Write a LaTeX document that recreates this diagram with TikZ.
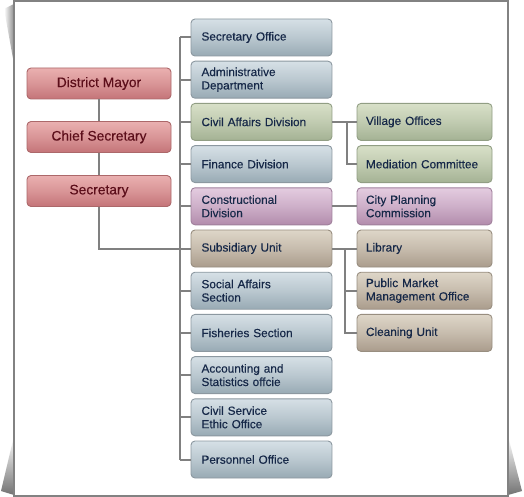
\documentclass[tikz,border=0pt]{standalone}
\usepackage{fontspec}
\setmainfont{Liberation Sans}
\newfontfamily\boxfont{Liberation Sans}[FakeBold=0.3]
\hyphenpenalty=10000
\AtBeginDocument{\hyphenpenalty=10000\relax}
\begin{document}
\begin{tikzpicture}[x=1pt,y=-1pt]
\definecolor{bluetop}{RGB}{214,224,230}
\definecolor{bluebot}{RGB}{152,170,180}
\definecolor{blueborder}{RGB}{140,152,160}
\definecolor{greentop}{RGB}{216,224,200}
\definecolor{greenbot}{RGB}{164,178,148}
\definecolor{greenborder}{RGB}{145,158,132}
\definecolor{purpletop}{RGB}{228,204,224}
\definecolor{purplebot}{RGB}{178,140,172}
\definecolor{purpleborder}{RGB}{160,128,156}
\definecolor{tantop}{RGB}{222,214,200}
\definecolor{tanbot}{RGB}{170,156,140}
\definecolor{tanborder}{RGB}{152,142,128}
\definecolor{redtop}{RGB}{234,176,176}
\definecolor{redbot}{RGB}{196,116,120}
\definecolor{redborder}{RGB}{172,104,106}
\definecolor{navytext}{RGB}{22,40,72}
\definecolor{maroontext}{RGB}{92,14,26}
\definecolor{linegray}{RGB}{128,128,128}
\definecolor{framegray}{RGB}{130,130,130}
\tikzset{
  box/.style={draw=#1border, rounded corners=4pt, line width=0.9pt,
    top color=#1top, bottom color=#1bot, middle color=#1top!55!#1bot,
    minimum height=37pt, inner ysep=0pt},
  midbox/.style={box=#1, minimum width=141pt, text width=120pt, inner xsep=10.5pt,
    align=left, text=navytext, font=\boxfont\fontsize{11.8}{13.4}\selectfont},
  rightbox/.style={box=#1, minimum width=135pt, text width=117pt, inner xsep=9pt,
    align=left, text=navytext, font=\boxfont\fontsize{11.8}{13.4}\selectfont},
  leftbox/.style={box=red, minimum width=144pt, minimum height=31pt,
    align=center, text=maroontext, font=\boxfont\fontsize{13.8}{16}\selectfont},
  conn/.style={draw=linegray, line width=2pt},
}
\useasboundingbox (0,0) rectangle (524,497);
\fill[white] (0,0) rectangle (524,497);
% page-curl shadows
\shade[left color=white, right color=black!45] (4,9) -- (14,4) -- (14,64) -- cycle;
\shade[top color=white, bottom color=black!55] (14,436) -- (14,495) -- (1,491) -- cycle;
\shade[top color=white, bottom color=black!55] (508,436) -- (508,495) -- (522,491) -- cycle;
\draw[draw=framegray, line width=1.5pt, fill=white] (14,1) rectangle (508,496);

% left column
\node[leftbox] (dm) at (99,83.5) {District Mayor};
\node[leftbox] (cs) at (99,137) {Chief Secretary};
\node[leftbox] (sec) at (99,191) {Secretary};

% middle column
\node[midbox=blue]   (m1)  at (261.5,37.5)  {Secretary Office};
\node[midbox=blue]   (m2)  at (261.5,79.7)  {Administrative\\Department};
\node[midbox=green]  (m3)  at (261.5,121.9) {Civil Affairs Division};
\node[midbox=blue]   (m4)  at (261.5,164.1) {Finance Division};
\node[midbox=purple] (m5)  at (261.5,206.3) {Constructional\\Division};
\node[midbox=tan]    (m6)  at (261.5,248.5) {Subsidiary Unit};
\node[midbox=blue]   (m7)  at (261.5,290.7) {Social Affairs\\Section};
\node[midbox=blue]   (m8)  at (261.5,332.9) {Fisheries Section};
\node[midbox=blue]   (m9)  at (261.5,375.1) {Accounting and\\Statistics offcie};
\node[midbox=blue]   (m10) at (261.5,417.3) {Civil Service\\Ethic Office};
\node[midbox=blue]   (m11) at (261.5,459.5) {Personnel Office};

% right column
\node[rightbox=green]  (r1) at (424.5,121.9) {Village Offices};
\node[rightbox=green]  (r2) at (424.5,164.1) {Mediation Committee};
\node[rightbox=purple] (r3) at (424.5,206.3) {City Planning\\Commission};
\node[rightbox=tan]    (r4) at (424.5,248.5) {Library};
\node[rightbox=tan]    (r5) at (424.5,290.7) {Public Market\\Management Office};
\node[rightbox=tan]    (r6) at (424.5,332.9) {Cleaning Unit};

% connector guide coordinates
\coordinate (tr) at (180,0);
\coordinate (b1) at (347,0);
\coordinate (b2) at (345,0);

% connectors
\draw[conn] (dm) -- (cs);
\draw[conn] (cs) -- (sec);
\draw[conn] (sec.south) |- (m6.west -| tr);
\draw[conn] (m1.west -| tr) -- (m11.west -| tr);
\foreach \m in {m1,m2,m3,m4,m5,m6,m7,m8,m9,m10,m11}
  \draw[conn] (\m.west) -- (\m.west -| tr);
\draw[conn] (m3.east) -- (r1.west);
\draw[conn] (m3.east -| b1) |- (r2.west);
\draw[conn] (m5.east) -- (r3.west);
\draw[conn] (m6.east) -- (r4.west);
\draw[conn] (m6.east -| b2) |- (r5.west);
\draw[conn] (m6.east -| b2) |- (r6.west);
\end{tikzpicture}
\end{document}
